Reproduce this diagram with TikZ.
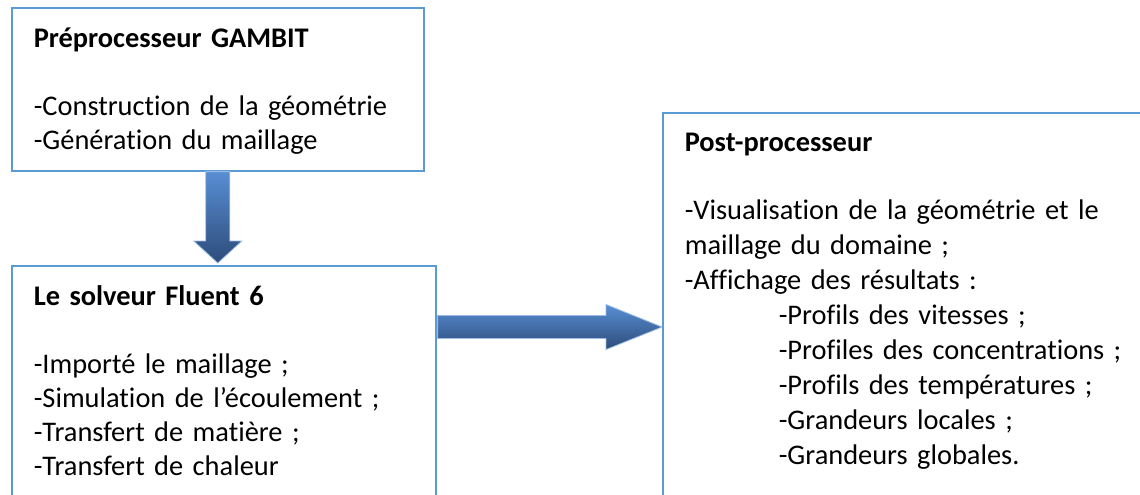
\documentclass[tikz,border=0pt]{standalone}
\usepackage{fontspec}
\setmainfont{Carlito}[Ligatures=NoCommon]
\usetikzlibrary{calc}

\definecolor{boxblue}{RGB}{91,155,213}
\definecolor{arrowtop}{RGB}{88,142,212}
\definecolor{arrowbot}{RGB}{45,76,122}

\tikzset{
  stagebox/.style={draw=boxblue, line width=0.8pt, anchor=north west, align=left,
    inner xsep=11pt, inner ysep=0pt, text height=20pt,
    font=\fontsize{14.2}{17}\selectfont},
  fatarrow/.style={draw=arrowtop!60!white, line width=0.4pt,
    top color=arrowtop, bottom color=arrowbot}
}

\begin{document}
\begin{tikzpicture}[x=0.5pt,y=-0.5pt]
  \useasboundingbox (0,0) rectangle (1140,494);

  % the three stages
  \node[stagebox, text width=184pt, text depth=61.5pt] (pre) at (11,7)
    {\textbf{Préprocesseur GAMBIT}\\[17pt]
     -Construction de la géométrie\\
     -Génération du maillage};
  \node[stagebox, text width=190pt, text depth=150pt] (solv) at (11,265)
    {\textbf{Le solveur Fluent 6}\\[17pt]
     -Importé le maillage ;\\
     -Simulation de l’écoulement ;\\
     -Transfert de matière ;\\
     -Transfert de chaleur};
  \node[stagebox, text width=240pt, text depth=200pt, text height=19.5pt,
        font=\fontsize{14.2}{17.5}\selectfont] (post) at (662,112)
    {\textbf{Post-processeur}\\[16.5pt]
     -Visualisation de la géométrie et le\\
     maillage du domaine ;\\
     -Affichage des résultats :\\
     \hspace*{47pt}-Profils des vitesses ;\\
     \hspace*{47pt}-Profiles des concentrations ;\\
     \hspace*{47pt}-Profils des températures ;\\
     \hspace*{47pt}-Grandeurs locales ;\\
     \hspace*{47pt}-Grandeurs globales.};

  % block arrows
  \shadedraw[fatarrow] ($(pre.south)+(-12,0)$) -- ($(pre.south)+(12,0)$)
    -- ($(pre.south |- solv.north)+(12,-24)$) -- ($(pre.south |- solv.north)+(24,-24)$)
    -- ($(pre.south |- solv.north)+(0,-2)$)
    -- ($(pre.south |- solv.north)+(-24,-24)$) -- ($(pre.south |- solv.north)+(-12,-24)$)
    -- cycle;
  \coordinate (mid) at ($(solv.north east)+(0,62)$);
  \shadedraw[fatarrow] ($(mid)+(1,-11.5)$) -- ($(mid -| post.west)+(-56,-11.5)$)
    -- ($(mid -| post.west)+(-56,-22.5)$) -- ($(mid -| post.west)+(0,0)$)
    -- ($(mid -| post.west)+(-56,22.5)$) -- ($(mid -| post.west)+(-56,11.5)$)
    -- ($(mid)+(1,11.5)$) -- cycle;
\end{tikzpicture}
\end{document}
